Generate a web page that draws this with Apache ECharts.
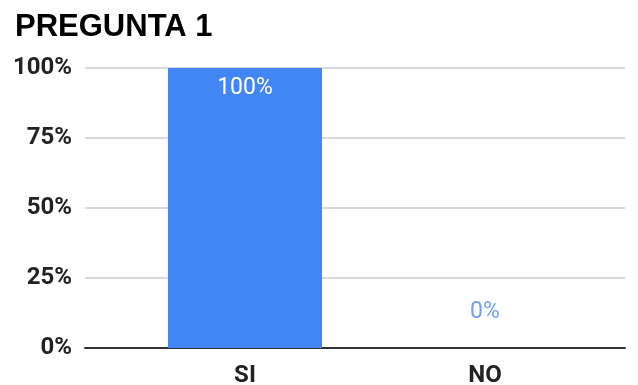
<!DOCTYPE html>
<html><head><meta charset="utf-8">
<script src="https://cdn.jsdelivr.net/npm/echarts@6/dist/echarts.min.js"></script>
<style>html,body{margin:0;padding:0;background:#fff}#c{width:638px;height:385px}</style>
</head><body><div id="c"></div>
<script>
const title = 'PREGUNTA 1';
const categories = ['SI', 'NO'];
const values = [100, 0];
const yTicks = [0, 25, 50, 75, 100];

const chart = echarts.init(document.getElementById('c'), null, {renderer: 'canvas'});
const labelFont = 'Roboto, "Liberation Sans", Arial, sans-serif';
chart.setOption({
  animation: false,
  title: {text: title, left: 10, top: 7, textStyle: {fontFamily: '"Liberation Sans", Arial, sans-serif', fontWeight: 'bold', fontSize: 31, color: '#000'}},
  grid: {left: 85, right: 13, top: 68, bottom: 37, outerBoundsMode: 'none', containLabel: false},
  xAxis: {
    type: 'value', min: -0.6667, max: 1.5833,
    splitLine: {show: false},
    axisTick: {show: false},
    axisLine: {show: true, lineStyle: {color: '#333', width: 2}},
    axisLabel: {customValues: categories.map((c, i) => i), formatter: v => categories[Math.round(v)] || '',
      fontFamily: labelFont, fontWeight: 'bold', fontSize: 24, color: '#222', margin: 16}
  },
  yAxis: {
    type: 'value', min: 0, max: 100, interval: 25,
    axisLine: {show: false}, axisTick: {show: false},
    splitLine: {lineStyle: {color: '#ccc', width: 1.5}},
    axisLabel: {formatter: v => yTicks.includes(v) ? v + '%' : '', fontFamily: labelFont, fontWeight: 'bold', fontSize: 24, color: '#222', margin: 13}
  },
  series: [{
    type: 'bar', barWidth: 154,
    itemStyle: {color: '#4285f4'},
    data: values.map((v, i) => ({
      value: [i, v],
      label: v > 0
        ? {show: true, position: 'insideTop', distance: 9, color: '#fff', fontSize: 23, fontFamily: labelFont, formatter: p => p.value[1] + '%'}
        : {show: true, position: 'top', distance: 24, color: '#6fa1f7', fontSize: 23, fontFamily: labelFont, formatter: p => p.value[1] + '%'}
    }))
  }]
});
</script></body></html>
